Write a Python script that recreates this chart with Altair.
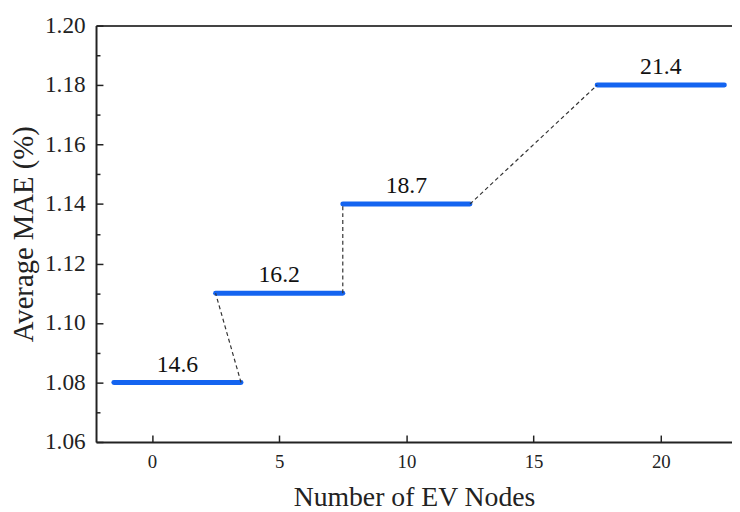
import altair as alt
import pandas as pd

# ---- data ----
centers = [1, 5, 10, 20]
half_width = [2.5, 2.5, 2.5, 2.5]
mae = [1.08, 1.11, 1.14, 1.18]
labels = ["14.6", "16.2", "18.7", "21.4"]
x_ticks = [0, 5, 10, 15, 20]
y_ticks = [1.06, 1.08, 1.10, 1.12, 1.14, 1.16, 1.18, 1.20]
y_minor = [1.07, 1.09, 1.11, 1.13, 1.15, 1.17, 1.19]

x0 = [c - h for c, h in zip(centers, half_width)]
x1 = [c + h for c, h in zip(centers, half_width)]
seg = pd.DataFrame({"x0": x0, "x1": x1, "y": mae, "label": labels, "xc": centers})
conn = pd.DataFrame({"cx0": x1[:-1], "cy0": mae[:-1], "cx1": x0[1:], "cy1": mae[1:]})

FONT = "Liberation Serif"
xs = alt.Scale(domain=[-2.2, 22.8], nice=False, zero=False)
ys = alt.Scale(domain=[1.06, 1.20], nice=False, zero=False)

fmt_y = ".2f"

# main layer: segments, labelled axes with domain lines
main_x = alt.Axis(orient="bottom", values=x_ticks, ticks=False, labelPadding=11,
                  labelFontSize=19, title="Number of EV Nodes", titleFontSize=28,
                  titlePadding=12, titleFontWeight="normal", grid=False, domain=True)
main_y = alt.Axis(orient="left", values=y_ticks, ticks=False, labelPadding=11, format=fmt_y,
                  labelFontSize=23.5, title="Average MAE (%)", titleFontSize=29,
                  titlePadding=6, titleFontWeight="normal", grid=False, domain=True)

segments = alt.Chart(seg).mark_rule(color="#1464f0", strokeWidth=5, strokeCap="round").encode(
    x=alt.X("x0:Q", scale=xs, axis=main_x),
    x2="x1:Q",
    y=alt.Y("y:Q", scale=ys, axis=main_y),
)

# connectors layer carries inward major ticks
tick_x = alt.Axis(orient="bottom", values=x_ticks, offset=-7, tickSize=7, labels=False,
                  domain=False, grid=False, title=None)
tick_y = alt.Axis(orient="left", values=y_ticks, offset=-7, tickSize=7, labels=False,
                  domain=False, grid=False, title=None)
connectors = alt.Chart(conn).mark_rule(color="#333333", strokeWidth=1.2, strokeDash=[4, 3]).encode(
    x=alt.X("cx0:Q", scale=xs, axis=tick_x),
    x2="cx1:Q",
    y=alt.Y("cy0:Q", scale=ys, axis=tick_y),
    y2="cy1:Q",
)

# text layer carries minor y ticks and the top frame line
top_x = alt.Axis(orient="top", values=x_ticks, ticks=False, labels=False, domain=True,
                 domainColor="#444444", domainWidth=2, grid=False, title=None)
minor_y = alt.Axis(orient="left", values=y_minor, offset=-4, tickSize=4, labels=False,
                   domain=False, grid=False, title=None)
texts = alt.Chart(seg).mark_text(font=FONT, fontSize=24, color="#111111", dy=-11,
                                 baseline="alphabetic").encode(
    x=alt.X("xc:Q", scale=xs, axis=top_x),
    y=alt.Y("y:Q", scale=ys, axis=minor_y),
    text="label:N",
)

chart = alt.layer(segments, connectors, texts).resolve_axis(
    x="independent", y="independent"
).properties(
    width=643, height=421,
    autosize=alt.AutoSizeParams(type="none"),
    padding={"left": 89, "top": 15, "right": 0, "bottom": 67},
).configure_view(stroke=None).configure_axis(
    labelFont=FONT, titleFont=FONT, labelColor="#222222", titleColor="#222222",
    domainColor="#222222", domainWidth=2, tickColor="#222222", tickWidth=1.5,
)

chart.save("out.html", embed_options={"renderer": "svg", "actions": False})
